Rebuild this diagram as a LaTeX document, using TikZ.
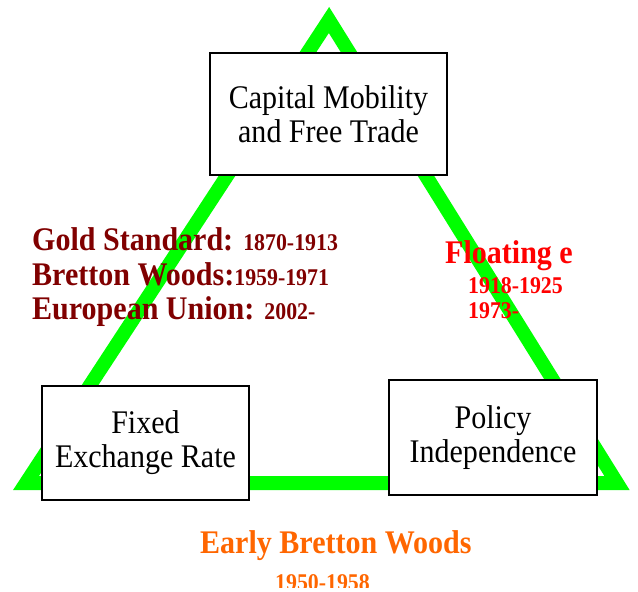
\documentclass[tikz,border=0pt]{standalone}
\usepackage{fontspec}
\setmainfont{Liberation Serif}[FakeStretch=0.91]
\definecolor{trianglegreen}{RGB}{0,255,0}
\definecolor{fixedred}{RGB}{128,0,0}
\definecolor{floatred}{RGB}{255,0,0}
\definecolor{earlyorange}{RGB}{255,102,0}
\tikzset{
  corner/.style={draw=black, line width=2.5pt, fill=white, align=center,
    font=\fontsize{33}{34}\selectfont},
  era/.style={anchor=base west, inner sep=0pt, font=\bfseries\fontsize{33}{34}\selectfont},
}
\newcommand{\yrs}[1]{{\fontsize{24}{26}\selectfont #1}}
\begin{document}
\begin{tikzpicture}[x=1pt, y=-1pt]
\useasboundingbox (0,0) rectangle (638,592);
\draw[trianglegreen, line width=14pt, line join=miter] (26,483)--(329,20)--(617,483)--cycle;

\node[corner, minimum width=237pt, minimum height=122pt] (capital) at (328.5,114)
  {Capital Mobility\\and Free Trade};
\node[corner, minimum width=207pt, minimum height=114pt] (fixed) at (145.5,443)
  {Fixed\\Exchange Rate};
\node[corner, minimum width=208pt, minimum height=115pt] (policy) at (493,437.5)
  {Policy\\Independence};

\node[era, fixedred] (gold) at (32,250) {Gold Standard: \yrs{1870-1913}};
\node[era, fixedred] (bretton) at (32,285) {Bretton Woods:\yrs{1959-1971}};
\node[era, fixedred] (europe) at (32,319) {European Union: \yrs{2002-}};

\node[era, floatred] (floating) at (445,263) {Floating e};
\foreach \y/\name/\years in {293/floatA/1918-1925, 318/floatB/1973-}
{
    \node[era, floatred] (\name) at (468,\y) {\yrs{\years}};
}

\node[era, earlyorange] (early) at (200,553) {Early Bretton Woods};
% years line is cut off at the bottom edge
\begin{scope}
\clip (0,0) rectangle (638,587);
\node[era, earlyorange] (earlyyears) at (275,590) {\yrs{1950-1958}};
\end{scope}
\end{tikzpicture}
\end{document}
